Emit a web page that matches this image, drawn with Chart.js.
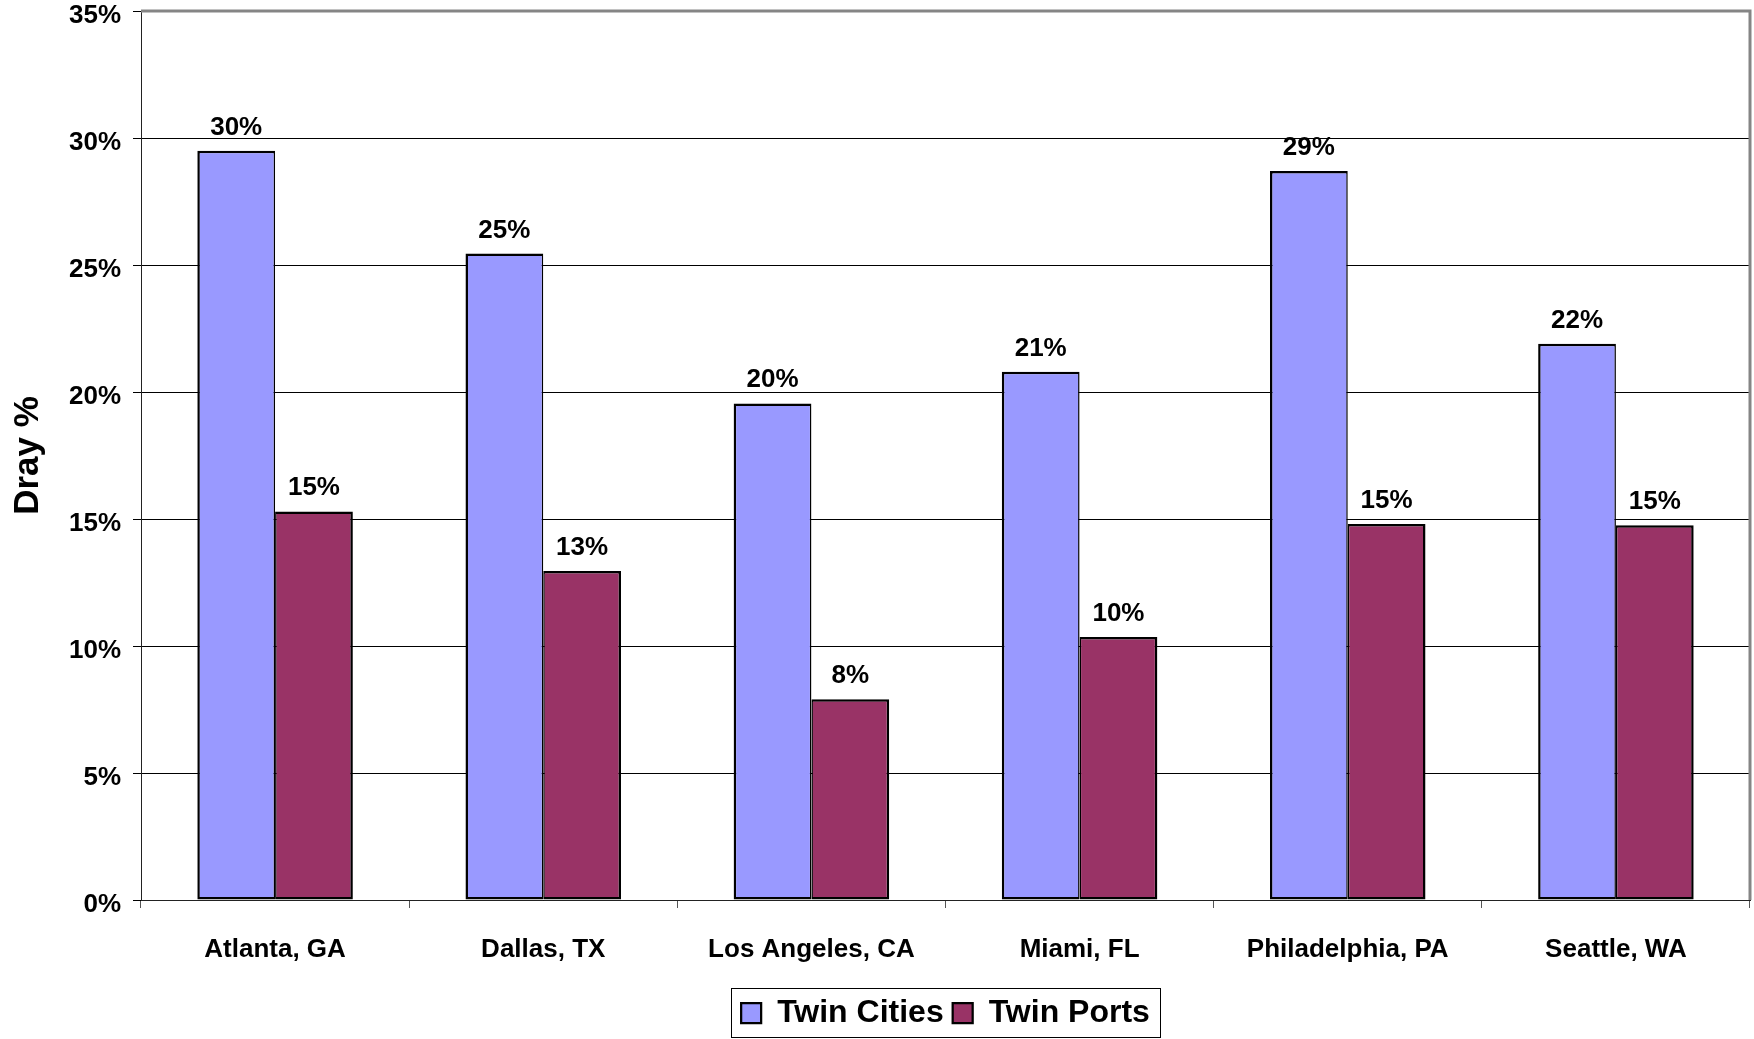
<!DOCTYPE html>
<html><head><meta charset="utf-8">
<script src="https://cdn.jsdelivr.net/npm/chart.js@4/dist/chart.umd.min.js"></script>
<style>html,body{margin:0;padding:0;background:#fff;overflow:hidden}canvas{display:block}</style>
</head><body>
<canvas id="c" width="1754" height="1039"></canvas>
<script>
const categories = ['Atlanta, GA', 'Dallas, TX', 'Los Angeles, CA', 'Miami, FL', 'Philadelphia, PA', 'Seattle, WA'];
const twinCities = [29.5, 25.45, 19.55, 20.8, 28.7, 21.9];
const twinPorts = [15.3, 12.95, 7.9, 10.35, 14.8, 14.75];
const seriesNames = ['Twin Cities', 'Twin Ports'];
const yMin = 0, yMax = 35, yStep = 5;
const yTitle = 'Dray %';

const FONT = "'Liberation Sans', Arial, sans-serif";

const dataLabels = {
  id: 'dataLabels',
  afterDatasetsDraw(chart) {
    const ctx = chart.ctx;
    ctx.save();
    ctx.font = 'bold 26px ' + FONT;
    ctx.fillStyle = '#000';
    ctx.textAlign = 'center';
    ctx.textBaseline = 'alphabetic';
    chart.data.datasets.forEach((ds, i) => {
      chart.getDatasetMeta(i).data.forEach((bar, j) => {
        ctx.fillText(Math.round(ds.data[j]) + '%', bar.x, bar.y - 16);
      });
    });
    ctx.restore();
  }
};

const plotBorder = {
  id: 'plotBorder',
  beforeDatasetsDraw(chart) {
    const ctx = chart.ctx;
    const {left, top, right, bottom} = chart.chartArea;
    ctx.save();
    ctx.strokeStyle = '#858585';
    ctx.lineWidth = 3;
    ctx.beginPath();
    ctx.moveTo(left, top);
    ctx.lineTo(right, top);
    ctx.lineTo(right, bottom);
    ctx.stroke();
    ctx.restore();
  }
};

const legendFix = {
  id: 'legendFix',
  afterLayout(chart) {
    const lg = chart.legend;
    const ca = chart.chartArea;
    lg.left = ca.left;
    lg.right = ca.right;
    lg.width = ca.right - ca.left;
  },
  afterDraw(chart) {
    const lg = chart.legend;
    const ctx = chart.ctx;
    const pad = lg.options.labels.padding;
    const w = lg.lineWidths[0];
    const start = (lg.left + pad + lg.right - w) / 2;
    const x0 = Math.round(start - 10) + 0.5;
    const x1 = Math.round(start + w - pad + 10) + 0.5;
    ctx.save();
    ctx.strokeStyle = '#000';
    ctx.lineWidth = 1;
    ctx.strokeRect(x0, Math.round(lg.top) + 0.5, x1 - x0, 49);
    ctx.restore();
  }
};

new Chart(document.getElementById('c'), {
  type: 'bar',
  data: {
    labels: categories,
    datasets: [
      { label: seriesNames[0], data: twinCities, backgroundColor: '#9999FF', borderColor: '#000',
        borderWidth: { left: 2.5, top: 2.5, right: 1.5, bottom: 2.5 }, borderSkipped: false },
      { label: seriesNames[1], data: twinPorts, backgroundColor: '#993366', borderColor: '#000',
        borderWidth: { left: 1.5, top: 2.5, right: 2.5, bottom: 2.5 }, borderSkipped: false }
    ]
  },
  options: {
    responsive: false,
    animation: false,
    devicePixelRatio: 1,
    layout: { padding: { top: 11, right: 4, left: 0, bottom: 0 } },
    datasets: { bar: { categoryPercentage: 0.58, barPercentage: 1.0 } },
    plugins: {
      legend: {
        position: 'bottom',
        labels: {
          font: { family: FONT, size: 32, weight: 'bold' },
          color: '#000',
          boxWidth: 20,
          boxHeight: 20,
          padding: 9
        }
      },
      tooltip: { enabled: false }
    },
    scales: {
      x: {
        offset: true,
        grid: { display: true, drawOnChartArea: false, offset: true, tickLength: 8, color: '#555', lineWidth: 1 },
        border: { color: '#222', width: 1 },
        ticks: { font: { family: FONT, size: 26, weight: 'bold' }, color: '#000', padding: 26, maxRotation: 0, autoSkip: false },
        afterFit(scale) { scale.height = 88; scale.paddingLeft = 0; scale.paddingRight = 0; }
      },
      y: {
        min: yMin,
        max: yMax,
        grid: { color: '#000', lineWidth: 1, tickLength: 8, tickColor: '#000' },
        border: { color: '#222', width: 1 },
        ticks: {
          stepSize: yStep,
          font: { family: FONT, size: 26, weight: 'bold' },
          color: '#000',
          padding: 12,
          labelOffset: 5,
          callback: v => v + '%'
        },
        title: {
          display: true,
          text: yTitle,
          font: { family: FONT, size: 35, weight: 'bold' },
          color: '#000',
          padding: { top: 7, bottom: 0 }
        },
        afterFit(scale) { scale.width = 141; scale.paddingTop = 0; scale.paddingBottom = 0; }
      }
    }
  },
  plugins: [plotBorder, dataLabels, legendFix]
});
</script>
</body></html>
